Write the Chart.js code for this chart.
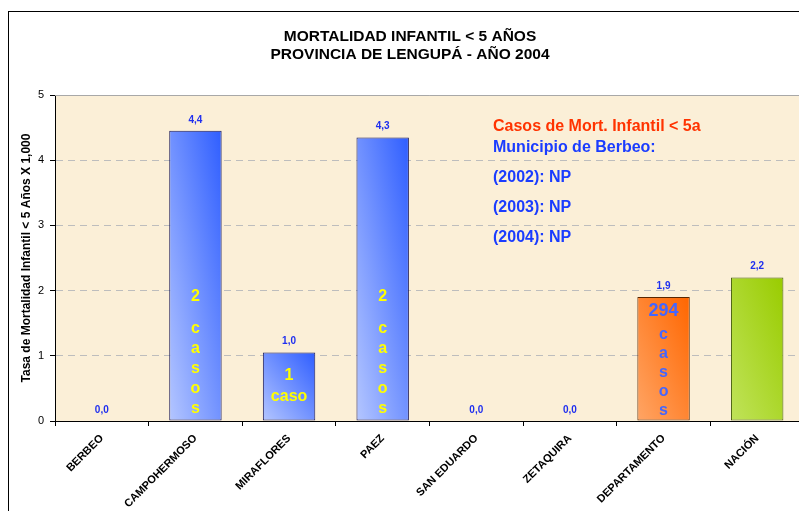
<!DOCTYPE html>
<html><head><meta charset="utf-8">
<script src="https://cdn.jsdelivr.net/npm/chart.js@4.4.0/dist/chart.umd.min.js"></script>
<style>
html,body{margin:0;padding:0;background:#fff;overflow:hidden;width:799px;height:511px}
#wrap{position:absolute;left:0;top:0;width:830px;height:540px}
</style>
</head><body><div id="wrap"><canvas id="c" width="830" height="540"></canvas></div>
<script>
// ---- data ----
const categories = ['BERBEO','CAMPOHERMOSO','MIRAFLORES','PAEZ','SAN EDUARDO','ZETAQUIRA','DEPARTAMENTO','NACIÓN'];
const rates = [0, 4.45, 1.05, 4.35, 0, 0, 1.9, 2.2];
const barNotes = ['', '2\n\nc\na\ns\no\ns', '1\ncaso', '2\n\nc\na\ns\no\ns', '', '', '294\nc\na\ns\no\ns', ''];
const yTicks = [0, 1, 2, 3, 4, 5];
const titleLines = ['MORTALIDAD INFANTIL < 5 AÑOS', 'PROVINCIA DE LENGUPÁ - AÑO 2004'];
const yTitle = 'Tasa de Mortalidad Infantil < 5 Años X 1,000';
const boxLines = ['Casos de Mort. Infantil < 5a', 'Municipio de Berbeo:', '(2002): NP', '(2003): NP', '(2004): NP'];

// ---- styles ----
const F = 'Arial, "Liberation Sans", sans-serif';
const BAR_PCT = 0.56;
const BLUE = ['#B4C6FF', '#2F5EFF'], ORANGE = ['#FFA565', '#FF6600'], GREEN = ['#C0E35A', '#99CC00'];
const fillStops = [BLUE, BLUE, BLUE, BLUE, BLUE, BLUE, ORANGE, GREEN];
const edgeColors = ['#1A1A5A','#1A1A5A','#1A1A5A','#1A1A5A','#1A1A5A','#1A1A5A','#5A2600','#4A6010'];
const yellowNote = {color:'#FFFF00', size:16, firstSize:16, gap:20, firstGap:20, blank:12, anchor:'bottom', offset:12};
const noteStyles = [null, yellowNote,
  {color:'#FFFF00', size:16, firstSize:16, gap:21, firstGap:21, blank:12, anchor:'center', offset:0},
  yellowNote, null, null,
  {color:'#4466FF', size:16, firstSize:18, gap:19, firstGap:23, blank:12, anchor:'bottom', offset:10},
  null];

function fmt(v) { return (Math.floor(v * 10 + 1e-9) / 10).toFixed(1).replace('.', ','); }

function barFill(ctx) {
  const chart = ctx.chart, i = ctx.dataIndex, ca = chart.chartArea;
  const stops = fillStops[i];
  if (!ca || ctx.type !== 'data') return stops[1];
  const xs = chart.scales.x, ys = chart.scales.y;
  const cx = xs.getPixelForValue(i);
  const w = (xs.width / categories.length) * BAR_PCT;
  const left = cx - w / 2, bottom = ys.getPixelForValue(0), top = ys.getPixelForValue(rates[i]);
  const h = Math.max(bottom - top, 1);
  const k = 2 * w * h / (w * w + h * h);
  const g = chart.ctx.createLinearGradient(left, bottom, left + k * h, bottom - k * w);
  g.addColorStop(0, stops[0]); g.addColorStop(1, stops[1]);
  return g;
}

const decor = {
  id: 'decor',
  beforeDraw(chart) {
    const c = chart.ctx, ca = chart.chartArea;
    c.save();
    c.fillStyle = '#fff'; c.fillRect(0, 0, chart.width, chart.height);
    c.strokeStyle = '#000'; c.lineWidth = 1;
    c.strokeRect(8.5, 11.5, chart.width + 20, chart.height + 20);
    c.fillStyle = '#FBEFD7';
    c.fillRect(ca.left, ca.top, ca.right - ca.left, ca.bottom - ca.top);
    c.restore();
  },
  afterDraw(chart) {
    const c = chart.ctx, ca = chart.chartArea;
    const meta = chart.getDatasetMeta(0);
    c.save();
    // top border of plot
    c.strokeStyle = '#A8A8A8'; c.lineWidth = 1;
    c.beginPath(); c.moveTo(ca.left, Math.round(ca.top) + 0.5); c.lineTo(ca.right, Math.round(ca.top) + 0.5); c.stroke();
    // value labels
    c.fillStyle = '#1F2FEF'; c.font = 'bold 10px ' + F; c.textAlign = 'center'; c.textBaseline = 'middle';
    meta.data.forEach((el, i) => { c.fillText(fmt(rates[i]), el.x, el.y - 11); });
    // notes inside bars
    meta.data.forEach((el, i) => {
      const st = noteStyles[i]; if (!st || !barNotes[i]) return;
      const lines = barNotes[i].split('\n');
      const ys = new Array(lines.length);
      let y = 0;
      for (let j = lines.length - 1; j >= 0; j--) {
        if (j === lines.length - 1) { ys[j] = 0; continue; }
        const step = lines[j] === '' ? st.blank : (j === 0 ? st.firstGap : st.gap);
        y -= step; ys[j] = y;
      }
      let baseY;
      if (st.anchor === 'bottom') baseY = el.base - st.offset;
      else { const mid = (el.y + el.base) / 2; baseY = mid - ys[0] / 2; }
      c.fillStyle = st.color;
      lines.forEach((ln, j) => {
        if (!ln) return;
        c.font = 'bold ' + (j === 0 ? st.firstSize : st.size) + 'px ' + F;
        c.fillText(ln, el.x, baseY + ys[j]);
      });
    });
    // title
    c.fillStyle = '#000'; c.font = 'bold 15.5px ' + F; c.textAlign = 'center';
    titleLines.forEach((t, j) => c.fillText(t, 410, 37 + j * 18));
    // text box
    c.textAlign = 'left'; c.font = 'bold 16px ' + F;
    const bx = ca.left + 438, offs = [32, 53, 83, 113, 143];
    boxLines.forEach((t, j) => {
      c.fillStyle = j === 0 ? '#FF3300' : '#1A3CFF';
      c.fillText(t, bx, ca.top + offs[j]);
    });
    c.restore();
  }
};

new Chart(document.getElementById('c'), {
  type: 'bar',
  data: {
    labels: categories,
    datasets: [{
      data: rates,
      backgroundColor: barFill,
      borderColor: ctx => edgeColors[ctx.dataIndex],
      borderWidth: ctx => (rates[ctx.dataIndex] === 0 ? 0 : 1),
      borderSkipped: false,
      barPercentage: BAR_PCT,
      categoryPercentage: 1
    }]
  },
  options: {
    responsive: false,
    animation: false,
    layout: { padding: { top: 95, right: 26, bottom: 29, left: 0 } },
    plugins: { legend: { display: false }, tooltip: { enabled: false }, title: { display: false } },
    scales: {
      x: {
        grid: { offset: true, drawOnChartArea: false, drawTicks: true, tickLength: 5, tickColor: '#000', color: '#000' },
        border: { color: '#000', width: 1 },
        ticks: { color: '#000', font: { family: F, size: 11, weight: 'bold' }, minRotation: 45, maxRotation: 45, autoSkip: false, padding: 6 },
        afterFit: s => { s.height = 90; }
      },
      y: {
        min: 0, max: 5,
        afterBuildTicks: s => { s.ticks = yTicks.map(v => ({ value: v })); },
        ticks: { color: '#000', font: { family: F, size: 11 }, padding: 6 },
        grid: { color: c => (c.tick && c.tick.value === 0 ? 'rgba(0,0,0,0)' : '#BDBDBD'), lineWidth: 1, tickColor: '#000', tickLength: 5, drawTicks: true },
        border: { color: '#000', width: 1, dash: [7, 5] },
        title: { display: true, text: yTitle, color: '#000', font: { family: F, size: 12, weight: 'bold' }, padding: { top: 19, bottom: 0 } },
        afterFit: s => { s.width = 55; }
      }
    }
  },
  plugins: [decor]
});
</script>
</body></html>
